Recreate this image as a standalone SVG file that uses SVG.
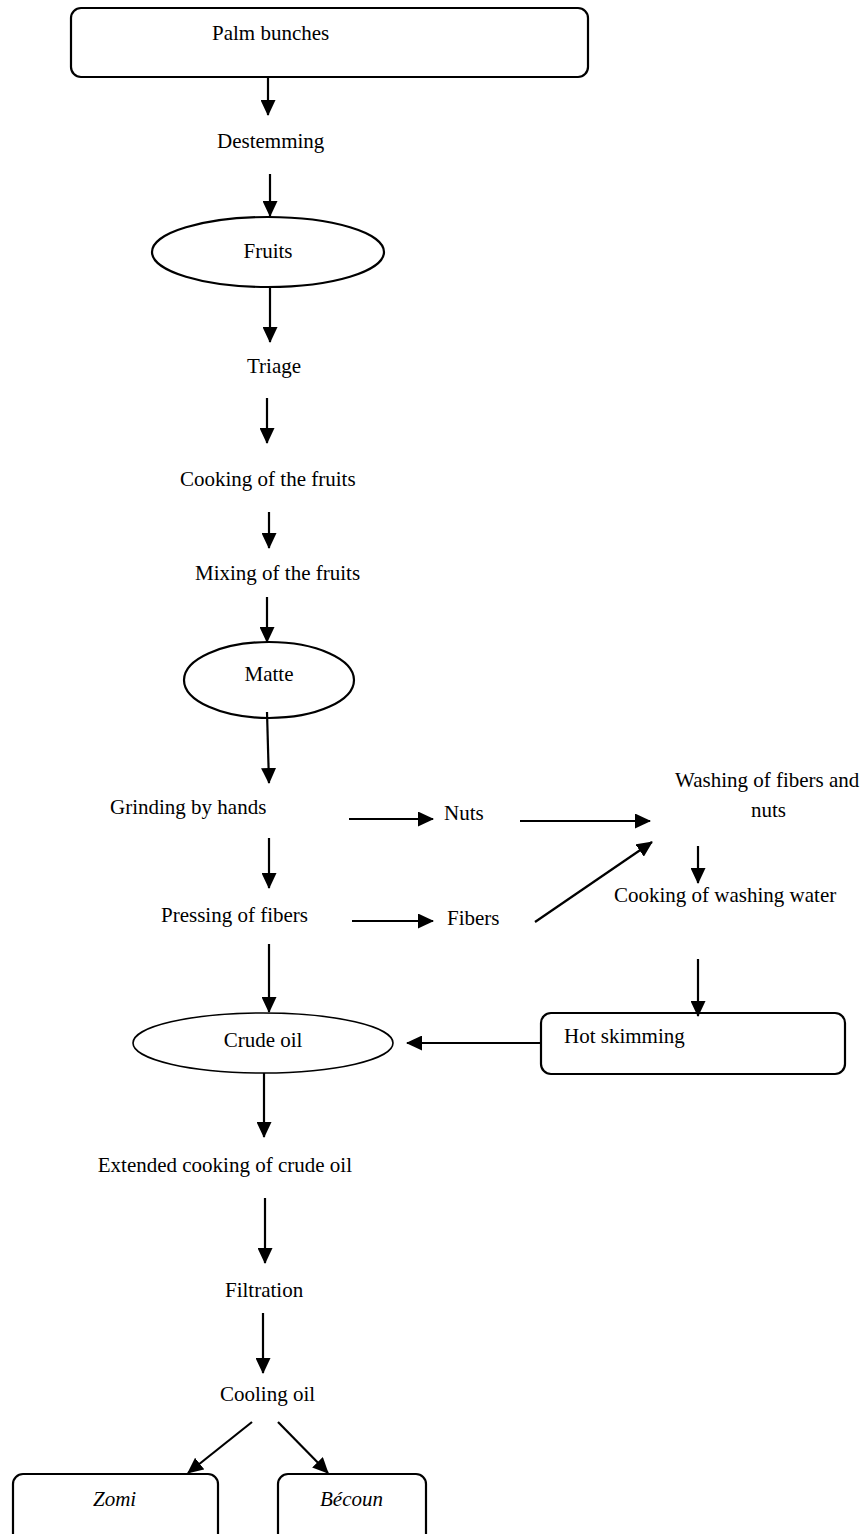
<svg xmlns="http://www.w3.org/2000/svg" width="864" height="1534" viewBox="0 0 864 1534">
<style>
text{font-family:"Liberation Serif","Times New Roman",serif;font-size:21px;fill:#000}
.it{font-style:italic}
.box{fill:#fff;stroke:#000;stroke-width:2.2}
.ell{fill:#fff;stroke:#000;stroke-width:2.2}
.c line{stroke:#000;stroke-width:2.2;marker-end:url(#ah)}
</style>
<defs>
<marker id="ah" viewBox="0 0 16 15" refX="15" refY="7.5" markerWidth="16" markerHeight="15" markerUnits="userSpaceOnUse" orient="auto">
<path d="M0,0 L16,7.5 L0,15 z" fill="#000"/>
</marker>
</defs>
<rect width="864" height="1534" fill="#fff"/>
<g id="palm"><rect class="box" x="71" y="8" width="517" height="69" rx="10"/><text x="212" y="40">Palm bunches</text></g>
<g id="destemming"><text x="217" y="148">Destemming</text></g>
<g id="fruits"><ellipse class="ell" cx="268" cy="252" rx="116" ry="35"/><text x="268" y="258" text-anchor="middle">Fruits</text></g>
<g id="triage"><text x="247" y="373">Triage</text></g>
<g id="cooking-fruits"><text x="180" y="486">Cooking of the fruits</text></g>
<g id="mixing"><text x="195" y="580">Mixing of the fruits</text></g>
<g id="matte"><ellipse class="ell" cx="269" cy="680" rx="85" ry="38"/><text x="269" y="681" text-anchor="middle">Matte</text></g>
<g id="grinding"><text x="110" y="814">Grinding by hands</text></g>
<g id="nuts"><text x="444" y="820">Nuts</text></g>
<g id="washing"><text x="675" y="787">Washing of fibers and</text><text x="751" y="817">nuts</text></g>
<g id="cooking-water"><text x="614" y="902">Cooking of washing water</text></g>
<g id="pressing"><text x="161" y="922">Pressing of fibers</text></g>
<g id="fibers"><text x="447" y="925">Fibers</text></g>
<g id="crude"><ellipse class="ell" cx="263" cy="1043" rx="130" ry="30" style="stroke-width:1.6"/><text x="263" y="1047" text-anchor="middle">Crude oil</text></g>
<g id="hot-skimming"><rect class="box" x="541" y="1013" width="304" height="61" rx="10"/><text x="564" y="1043">Hot skimming</text></g>
<g id="extended"><text x="352" y="1172" text-anchor="end">Extended cooking of crude oil</text></g>
<g id="filtration"><text x="225" y="1297">Filtration</text></g>
<g id="cooling"><text x="220" y="1401">Cooling oil</text></g>
<g id="zomi"><rect class="box" x="13" y="1474" width="205" height="80" rx="10"/><text class="it" x="93" y="1506">Zomi</text></g>
<g id="becoun"><rect class="box" x="278" y="1474" width="148" height="80" rx="10"/><text class="it" x="320" y="1506">Bécoun</text></g>
<g id="connectors" class="c">
<line x1="268" y1="77" x2="268" y2="115"/>
<line x1="270" y1="174" x2="270" y2="216"/>
<line x1="270" y1="288" x2="270" y2="342"/>
<line x1="267" y1="398" x2="267" y2="443"/>
<line x1="269" y1="512" x2="269" y2="548"/>
<line x1="267" y1="597" x2="267" y2="642"/>
<line x1="267" y1="712" x2="269" y2="783"/>
<line x1="349" y1="819" x2="433" y2="819"/>
<line x1="520" y1="821" x2="650" y2="821"/>
<line x1="698" y1="846" x2="698" y2="883"/>
<line x1="269" y1="838" x2="269" y2="888"/>
<line x1="352" y1="921" x2="433" y2="921"/>
<line x1="535" y1="922" x2="652" y2="842"/>
<line x1="269" y1="944" x2="269" y2="1012"/>
<line x1="698" y1="959" x2="698" y2="1016"/>
<line x1="541" y1="1043" x2="407" y2="1043"/>
<line x1="264" y1="1073" x2="264" y2="1137"/>
<line x1="265" y1="1198" x2="265" y2="1263"/>
<line x1="263" y1="1313" x2="263" y2="1373"/>
<line x1="252" y1="1422" x2="188" y2="1473"/>
<line x1="278" y1="1422" x2="328" y2="1473"/>
</g>
</svg>
